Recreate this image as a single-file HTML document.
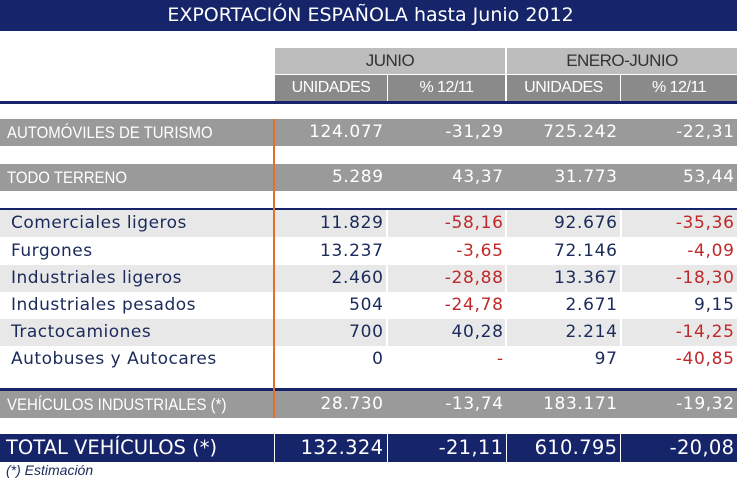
<!DOCTYPE html><html><head><style>
body{margin:0;width:737px;height:491px;background:#fff;position:relative;overflow:hidden;font-family:"DejaVu Sans",sans-serif}
div{position:absolute;box-sizing:border-box}
.t{white-space:nowrap}
.hc{font-family:"Liberation Sans",sans-serif;text-align:center;letter-spacing:-0.5px}
.r{text-align:right}
.lab{color:#fff;font-family:'Liberation Sans',sans-serif;font-size:17px;transform:scaleX(0.88);transform-origin:left center}
</style></head><body>
<div style="left:0;top:0;width:737px;height:31px;background:#16246a;color:#fff;font-size:19px;text-align:center;line-height:31px;padding-left:4px">EXPORTACIÓN ESPAÑOLA hasta Junio 2012</div>
<div class="hc" style="left:275px;top:48px;width:230px;height:26px;background:#bdbdbd;font-size:17px;line-height:26px;color:#333">JUNIO</div>
<div class="hc" style="left:507px;top:48px;width:230px;height:26px;background:#bdbdbd;font-size:17px;line-height:26px;color:#333">ENERO-JUNIO</div>
<div class="hc" style="left:275px;top:75px;width:112px;height:26px;background:#8a8a8a;font-size:16px;line-height:26px;color:#fff">UNIDADES</div>
<div class="hc" style="left:388px;top:75px;width:117px;height:26px;background:#8a8a8a;font-size:16px;line-height:26px;color:#fff">% 12/11</div>
<div class="hc" style="left:507px;top:75px;width:113px;height:26px;background:#8a8a8a;font-size:16px;line-height:26px;color:#fff">UNIDADES</div>
<div class="hc" style="left:621px;top:75px;width:116px;height:26px;background:#8a8a8a;font-size:16px;line-height:26px;color:#fff">% 12/11</div>
<div style="left:0;top:101px;width:737px;height:3px;background:#16246a"></div>

<div style="left:0;top:119px;width:737px;height:27px;background:#9a9a9a"></div>
<div style="left:0;top:164px;width:737px;height:27px;background:#9a9a9a"></div>
<div style="left:0;top:391px;width:737px;height:27px;background:#9a9a9a"></div>
<div style="left:0;top:208px;width:737px;height:2px;background:#16246a"></div>
<div style="left:0;top:388px;width:737px;height:3px;background:#16246a"></div>
<div style="left:0;top:210px;width:737px;height:27px;background:#e8e8e8"></div>
<div style="left:0;top:265px;width:737px;height:27px;background:#e8e8e8"></div>
<div style="left:0;top:319px;width:737px;height:27px;background:#e8e8e8"></div>
<div style="left:386px;top:210px;width:2px;height:178px;background:#fff"></div>
<div style="left:505px;top:210px;width:2px;height:178px;background:#fff"></div>
<div style="left:620px;top:210px;width:2px;height:178px;background:#fff"></div>

<div style="left:0;top:434px;width:737px;height:28px;background:#16246a"></div>
<div style="left:274px;top:434px;width:1px;height:28px;background:#fff"></div>
<div style="left:387px;top:434px;width:1px;height:28px;background:#fff"></div>
<div style="left:506px;top:434px;width:1px;height:28px;background:#fff"></div>
<div style="left:620px;top:434px;width:1px;height:28px;background:#fff"></div>
<div style="left:273px;top:119px;width:2px;height:299px;background:#e0702a"></div>

<div class="t lab" style="left:7px;top:119px;line-height:27px">AUTOMÓVILES DE TURISMO</div>
<div class="t lab" style="left:7px;top:164px;line-height:27px">TODO TERRENO</div>
<div class="t lab" style="left:7px;top:391px;line-height:27px">VEHÍCULOS INDUSTRIALES (*)</div>
<div class="t" style="left:6px;top:434px;line-height:28px;color:#fff;font-size:19.5px">TOTAL VEHÍCULOS (*)</div>

<div id="nums"></div>
<script>
var rows=[
[119,27,"124.077","-31,29","725.242","-22,31","#fff","#fff",17,0.6],
[164,27,"5.289","43,37","31.773","53,44","#fff","#fff",17,0.6],
[210,27,"11.829","-58,16","92.676","-35,36","#1a2a5a","#c0282a",17,0.7],
[237,28,"13.237","-3,65","72.146","-4,09","#1a2a5a","#c0282a",17,0.7],
[265,27,"2.460","-28,88","13.367","-18,30","#1a2a5a","#c0282a",17,0.7],
[292,27,"504","-24,78","2.671","9,15","#1a2a5a","#c0282a",17,0.7],
[319,27,"700","40,28","2.214","-14,25","#1a2a5a","#c0282a",17,0.7],
[346,27,"0","-","97","-40,85","#1a2a5a","#c0282a",17,0.7],
[391,27,"28.730","-13,74","183.171","-19,32","#fff","#fff",17,0.6],
[434,28,"132.324","-21,11","610.795","-20,08","#fff","#fff",19.5,0.3]];
var names=["Comerciales ligeros","Furgones","Industriales ligeros","Industriales pesados","Tractocamiones","Autobuses y Autocares"];
var rights=[383,503,617,734];
var h="";
rows.forEach(function(r,i){
 for(var c=0;c<4;c++){
  var col=(c%2==0)?r[6]:r[7];
  if(i>=2&&i<=7&&c%2==1&&r[2+c].charAt(0)!='-')col=r[6];
  if(i>=2&&i<=7&&r[2+c]=="-")col=r[7];
  h+='<div class="t r" style="right:'+(737-rights[c]-r[9])+'px;top:'+r[0]+'px;line-height:'+r[1]+'px;font-size:'+r[8]+'px;letter-spacing:'+r[9]+'px;color:'+col+'">'+r[2+c]+'</div>';
 }
 if(i>=2&&i<=7)h+='<div class="t" style="left:11px;top:'+r[0]+'px;line-height:'+r[1]+'px;font-size:17px;letter-spacing:0.5px;color:#1a2a5a">'+names[i-2]+'</div>';
});
document.getElementById("nums").outerHTML=h;
</script>
<div class="t" style="left:6px;top:461px;line-height:18px;font-family:'Liberation Sans',sans-serif;font-style:italic;font-size:14px;color:#1a2a5a">(*) Estimación</div>
</body></html>
